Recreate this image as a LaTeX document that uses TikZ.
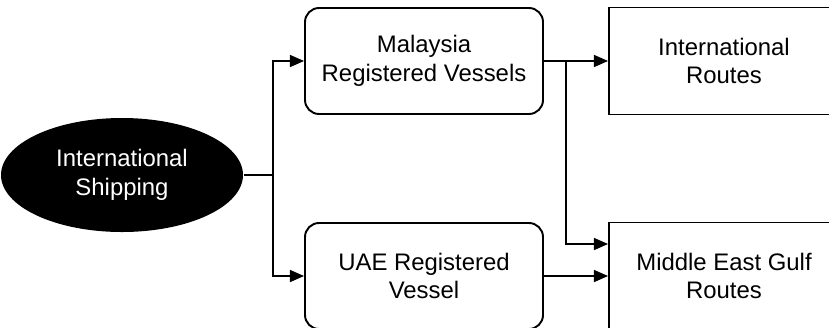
\documentclass[tikz,border=0pt]{standalone}
\usepackage{fontspec}
\setmainfont{Liberation Sans}
\usetikzlibrary{arrows.meta,positioning,shapes.geometric}
\begin{document}
\begin{tikzpicture}[>={Triangle[length=8pt,width=6.8pt]},font=\fontsize{13.6}{16.4}\selectfont,line width=0.9pt]
\useasboundingbox[clip] (0,0) rectangle (16.58,6.54);
\tikzstyle{rb}=[draw,line width=1.1pt,rounded corners=8pt,minimum width=4.76cm,minimum height=2.12cm,align=center]
\tikzstyle{sb}=[draw,line width=1.1pt,minimum width=4.6cm,minimum height=2.14cm,align=center]
\node[ellipse,fill=black,text=white,inner sep=0pt,minimum width=4.84cm,minimum height=2.28cm,align=center] (is) at (2.44,3.04) {International\\Shipping};
\node[rb] (my) at (8.48,5.32) {Malaysia\\Registered Vessels};
\node[rb] (uae) at (8.48,1.02) {UAE Registered\\Vessel};
\node[sb] (ir) at (14.48,5.32) {International\\Routes};
\node[sb] (me) at (14.48,1.02) {Middle East Gulf\\Routes};
\coordinate (fk) at (5.46,3.04);
\coordinate (br) at (11.32,5.32);
\draw (is) -- (fk);
\draw[->] (fk) |- (my);
\draw[->] (fk) |- (uae);
\draw[->] (my) -- (ir);
\draw[->] (br) |- ([yshift=0.64cm]me.west);
\draw[->] (uae) -- (me);
\end{tikzpicture}
\end{document}
